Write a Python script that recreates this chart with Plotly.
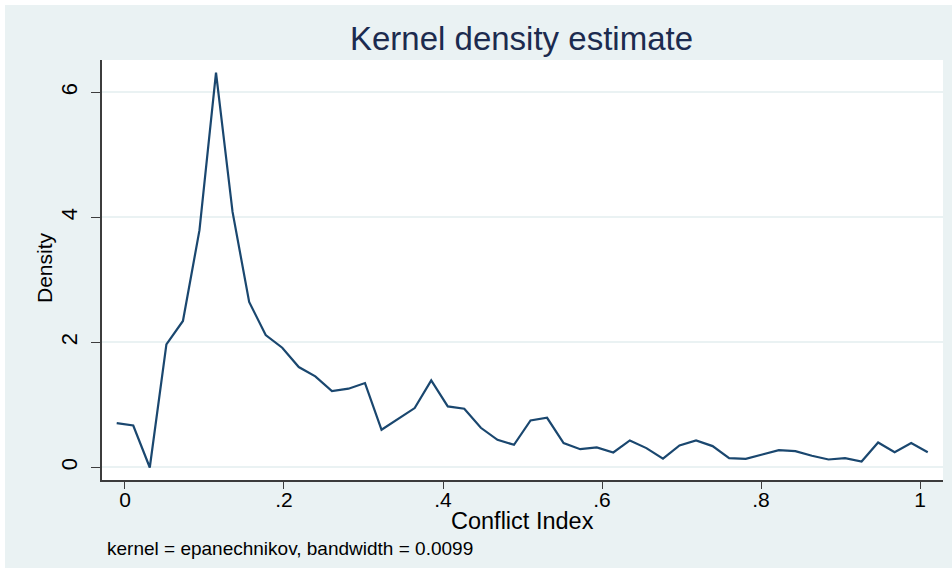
import plotly.graph_objects as go

# Evaluation grid (Conflict Index) and estimated density
conflict_index = [
    -0.0104, 0.0104, 0.0312, 0.0521, 0.0729, 0.0937, 0.1145, 0.1353, 0.1562, 0.1770,
    0.1978, 0.2186, 0.2394, 0.2603, 0.2811, 0.3019, 0.3227, 0.3435, 0.3644, 0.3852,
    0.4060, 0.4268, 0.4476, 0.4685, 0.4893, 0.5101, 0.5309, 0.5517, 0.5726, 0.5934,
    0.6142, 0.6350, 0.6558, 0.6767, 0.6975, 0.7183, 0.7391, 0.7599, 0.7808, 0.8016,
    0.8224, 0.8432, 0.8640, 0.8849, 0.9057, 0.9265, 0.9473, 0.9681, 0.9889, 1.0097,
]
density = [
    0.709, 0.672, 0.000, 1.970, 2.343, 3.795, 6.314, 4.088, 2.647, 2.119,
    1.916, 1.606, 1.457, 1.222, 1.260, 1.350, 0.603, 0.780, 0.950, 1.393,
    0.977, 0.940, 0.635, 0.443, 0.363, 0.753, 0.795, 0.390, 0.293, 0.320,
    0.240, 0.432, 0.310, 0.142, 0.352, 0.432, 0.342, 0.149, 0.139, 0.208,
    0.277, 0.261, 0.187, 0.128, 0.149, 0.096, 0.400, 0.245, 0.390, 0.245,
]

x_tickvals = [0, 0.2, 0.4, 0.6, 0.8, 1.0]
x_ticktext = ["0", ".2", ".4", ".6", ".8", "1"]
y_tickvals = [0, 2, 4, 6]
y_ticktext = ["0", "2", "4", "6"]

title_text = "Kernel density estimate"
x_title = "Conflict Index"
y_title = "Density"
note_text = "kernel = epanechnikov, bandwidth = 0.0099"

W, H = 952, 578
L, R, T, B = 102, 9, 60, 98
PW, PH = W - L - R, H - T - B

BG = "#eaf2f3"
LINE = "#1a476f"
AXIS = "#3c3c3c"
FONT = "Liberation Sans, Arial, sans-serif"


def px_x(px):
    return (px - L) / PW


def px_y(py):
    return (H - B - py) / PH


fig = go.Figure()
fig.add_trace(go.Scatter(
    x=conflict_index, y=density, mode="lines",
    line=dict(color=LINE, width=2.2), hoverinfo="skip", showlegend=False,
))

fig.update_layout(
    width=W, height=H,
    margin=dict(l=L, r=R, t=T, b=B, pad=0),
    paper_bgcolor=BG, plot_bgcolor="white",
    font=dict(family=FONT, color="black"),
    xaxis=dict(
        range=[-0.0289, 1.0289], tickvals=x_tickvals, ticktext=x_ticktext,
        ticks="outside", ticklen=7, tickwidth=1.3, tickcolor=AXIS,
        showline=True, linecolor=AXIS, linewidth=1.5,
        showgrid=False, zeroline=False,
        tickfont=dict(size=21, family=FONT, color="black"),
        ticklabelstandoff=-7,
    ),
    yaxis=dict(
        range=[-0.2, 6.517], tickvals=y_tickvals, ticktext=y_ticktext,
        ticks="outside", ticklen=9, tickwidth=1.3, tickcolor=AXIS,
        showline=True, linecolor=AXIS, linewidth=1.5,
        showgrid=True, gridcolor=BG, gridwidth=1.5, zeroline=False,
        tickangle=-90,
        tickfont=dict(size=22, family=FONT, color="black"),
        ticklabelstandoff=5,
    ),
)

# Title, axis titles and note
fig.add_annotation(text=title_text, xref="paper", yref="paper",
                   x=px_x(521), y=px_y(39), xanchor="center", yanchor="middle",
                   showarrow=False, font=dict(size=33, color="#1c2b4f", family=FONT))
fig.add_annotation(text=x_title, xref="paper", yref="paper",
                   x=px_x(522), y=px_y(521), xanchor="center", yanchor="middle",
                   showarrow=False, font=dict(size=23.5, color="black", family=FONT))
fig.add_annotation(text=y_title, xref="paper", yref="paper",
                   x=px_x(44), y=px_y(268), xanchor="center", yanchor="middle",
                   textangle=-90, showarrow=False,
                   font=dict(size=21, color="black", family=FONT))
fig.add_annotation(text=note_text, xref="paper", yref="paper",
                   x=px_x(105), y=px_y(548), xanchor="left", yanchor="middle",
                   showarrow=False, font=dict(size=19, color="black", family=FONT))

# Thin white margins around the outer panel
for x0, y0, x1, y1 in [(0, 0, 5, H), (0, 0, W, 5), (0, 568, W, H)]:
    fig.add_shape(type="rect", xref="paper", yref="paper",
                  x0=px_x(x0), x1=px_x(x1), y0=px_y(y1), y1=px_y(y0),
                  fillcolor="white", line=dict(width=0), layer="below")

fig.write_html("out.html")
